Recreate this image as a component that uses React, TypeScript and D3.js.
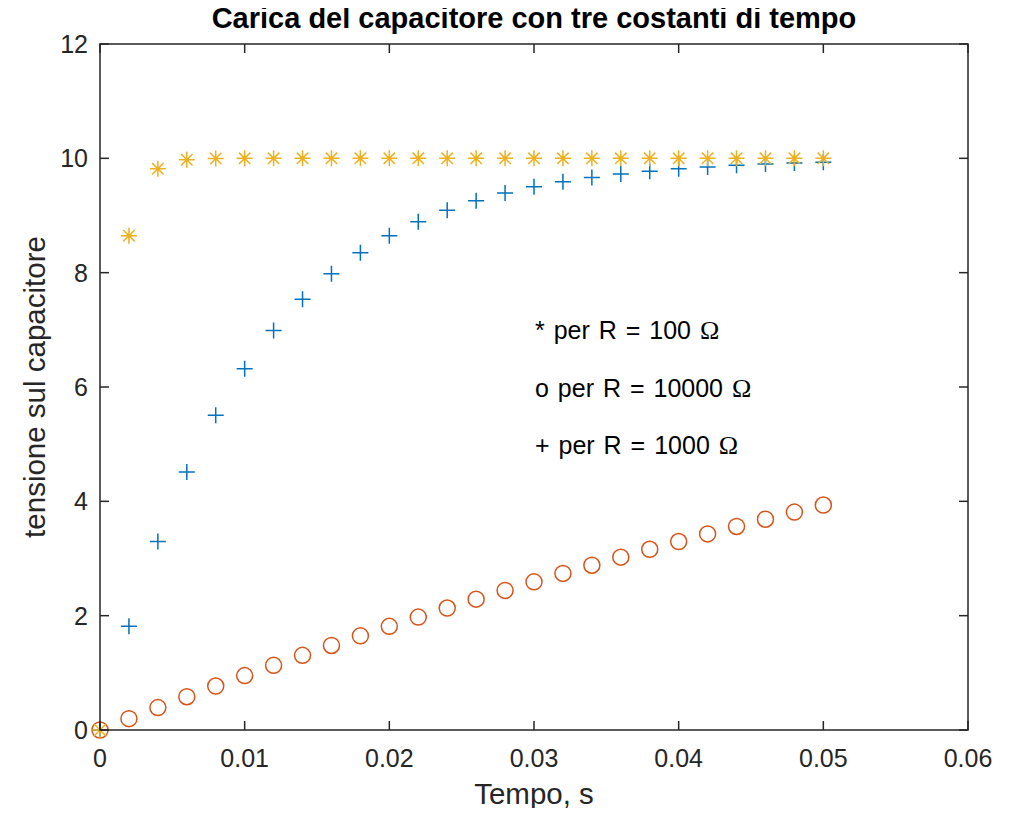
import { useEffect, useRef } from "react";
import * as d3 from "d3";

// time samples, s
const tempo = [
  0, 0.002, 0.004, 0.006, 0.008, 0.01, 0.012, 0.014, 0.016, 0.018, 0.02, 0.022, 0.024,
  0.026, 0.028, 0.03, 0.032, 0.034, 0.036, 0.038, 0.04, 0.042, 0.044, 0.046, 0.048, 0.05,
];

// R = 100 ohm (stars)
const vR100 = [
  0, 8.647, 9.817, 9.975, 9.997, 10.0, 10.0, 10.0, 10.0, 10.0, 10.0, 10.0, 10.0,
  10.0, 10.0, 10.0, 10.0, 10.0, 10.0, 10.0, 10.0, 10.0, 10.0, 10.0, 10.0, 10.0,
];

// R = 1000 ohm (plus)
const vR1000 = [
  0, 1.813, 3.297, 4.512, 5.507, 6.321, 6.988, 7.534, 7.981, 8.347, 8.647, 8.892, 9.093,
  9.257, 9.392, 9.502, 9.592, 9.666, 9.727, 9.776, 9.817, 9.85, 9.877, 9.899, 9.918, 9.933,
];

// R = 10000 ohm (circles)
const vR10000 = [
  0, 0.198, 0.392, 0.582, 0.769, 0.952, 1.131, 1.306, 1.479, 1.647, 1.813, 1.975, 2.134,
  2.289, 2.442, 2.592, 2.739, 2.882, 3.023, 3.161, 3.297, 3.43, 3.56, 3.687, 3.812, 3.935,
];

const xTicks = [0, 0.01, 0.02, 0.03, 0.04, 0.05, 0.06];
const yTicks = [0, 2, 4, 6, 8, 10, 12];

const notes = [
  { x: 0.03, y: 7, label: "* per R = 100 " },
  { x: 0.03, y: 6, label: "o per R = 10000 " },
  { x: 0.03, y: 5, label: "+ per R = 1000 " },
];

const W = 1018;
const H = 816;
const AX = "#262626";
const FONT = "'Liberation Sans', Arial, sans-serif";

export default function App() {
  const ref = useRef<SVGSVGElement>(null);

  useEffect(() => {
    if (!ref.current) return;
    const svg = d3.select(ref.current);
    svg.selectAll("*").remove();

    const left = 100, right = 968, top = 44, bottom = 730;
    const x = d3.scaleLinear().domain([0, 0.06]).range([left, right]);
    const y = d3.scaleLinear().domain([0, 12]).range([bottom, top]);

    svg.append("rect").attr("width", W).attr("height", H).attr("fill", "#fff");

    const g = svg.append("g");

    // plus markers (blue)
    const plus = g.append("g").attr("stroke", "#0072BD").attr("stroke-width", 1.5).attr("fill", "none");
    tempo.forEach((t, i) => {
      const cx = x(t), cy = y(vR1000[i]);
      plus.append("path").attr("d", `M${cx - 8},${cy}H${cx + 8}M${cx},${cy - 8}V${cy + 8}`);
    });

    // circle markers (orange)
    g.append("g")
      .selectAll("circle")
      .data(tempo)
      .join("circle")
      .attr("cx", (d) => x(d))
      .attr("cy", (_, i) => y(vR10000[i]))
      .attr("r", 8)
      .attr("fill", "none")
      .attr("stroke", "#D95319")
      .attr("stroke-width", 1.5);

    // star markers (yellow)
    const star = g.append("g").attr("stroke", "#EDB120").attr("stroke-width", 1.5).attr("fill", "none");
    tempo.forEach((t, i) => {
      const cx = x(t), cy = y(vR100[i]);
      const r = 8, d = 5.7;
      star.append("path").attr(
        "d",
        `M${cx - r},${cy}H${cx + r}M${cx},${cy - r}V${cy + r}` +
          `M${cx - d},${cy - d}L${cx + d},${cy + d}M${cx - d},${cy + d}L${cx + d},${cy - d}`
      );
    });

    // box
    svg.append("rect")
      .attr("x", left).attr("y", top)
      .attr("width", right - left).attr("height", bottom - top)
      .attr("fill", "none").attr("stroke", AX).attr("stroke-width", 1.5);

    const tl = 9;
    const ticks = svg.append("g").attr("stroke", AX).attr("stroke-width", 1.5);
    xTicks.forEach((t) => {
      ticks.append("line").attr("x1", x(t)).attr("x2", x(t)).attr("y1", bottom).attr("y2", bottom - tl);
      ticks.append("line").attr("x1", x(t)).attr("x2", x(t)).attr("y1", top).attr("y2", top + tl);
    });
    yTicks.forEach((t) => {
      ticks.append("line").attr("x1", left).attr("x2", left + tl).attr("y1", y(t)).attr("y2", y(t));
      ticks.append("line").attr("x1", right).attr("x2", right - tl).attr("y1", y(t)).attr("y2", y(t));
    });

    svg.append("g")
      .selectAll("text")
      .data(xTicks)
      .join("text")
      .attr("x", (d) => x(d))
      .attr("y", bottom + 37)
      .attr("text-anchor", "middle")
      .attr("font-family", FONT)
      .attr("font-size", 25)
      .attr("fill", AX)
      .text((d) => d3.format("~g")(d));

    svg.append("g")
      .selectAll("text")
      .data(yTicks)
      .join("text")
      .attr("x", left - 12)
      .attr("y", (d) => y(d))
      .attr("dy", "0.36em")
      .attr("text-anchor", "end")
      .attr("font-family", FONT)
      .attr("font-size", 25)
      .attr("fill", AX)
      .text((d) => d);

    svg.append("text")
      .attr("x", (left + right) / 2)
      .attr("y", 28)
      .attr("text-anchor", "middle")
      .attr("font-family", FONT)
      .attr("font-weight", "bold")
      .attr("font-size", 29)
      .attr("fill", "#000")
      .text("Carica del capacitore con tre costanti di tempo");

    svg.append("text")
      .attr("x", (left + right) / 2)
      .attr("y", 804)
      .attr("text-anchor", "middle")
      .attr("font-family", FONT)
      .attr("font-size", 29.5)
      .attr("fill", AX)
      .text("Tempo, s");

    svg.append("text")
      .attr("transform", `translate(45,${(top + bottom) / 2}) rotate(-90)`)
      .attr("text-anchor", "middle")
      .attr("font-family", FONT)
      .attr("font-size", 29.5)
      .attr("fill", AX)
      .text("tensione sul capacitore");

    notes.forEach((n) => {
      const t = svg.append("text")
        .attr("x", x(n.x) + 1)
        .attr("y", y(n.y))
        .attr("dy", "0.38em")
        .attr("font-family", FONT)
        .attr("font-size", 25)
        .attr("word-spacing", 2)
        .attr("fill", "#000");
      t.append("tspan").text(n.label);
      t.append("tspan")
        .attr("font-family", "'Liberation Serif', 'Times New Roman', serif")
        .attr("font-size", 26)
        .text("Ω");
    });
  }, []);

  return <svg ref={ref} width={W} height={H} style={{ display: "block", margin: -8 }} />;
}
